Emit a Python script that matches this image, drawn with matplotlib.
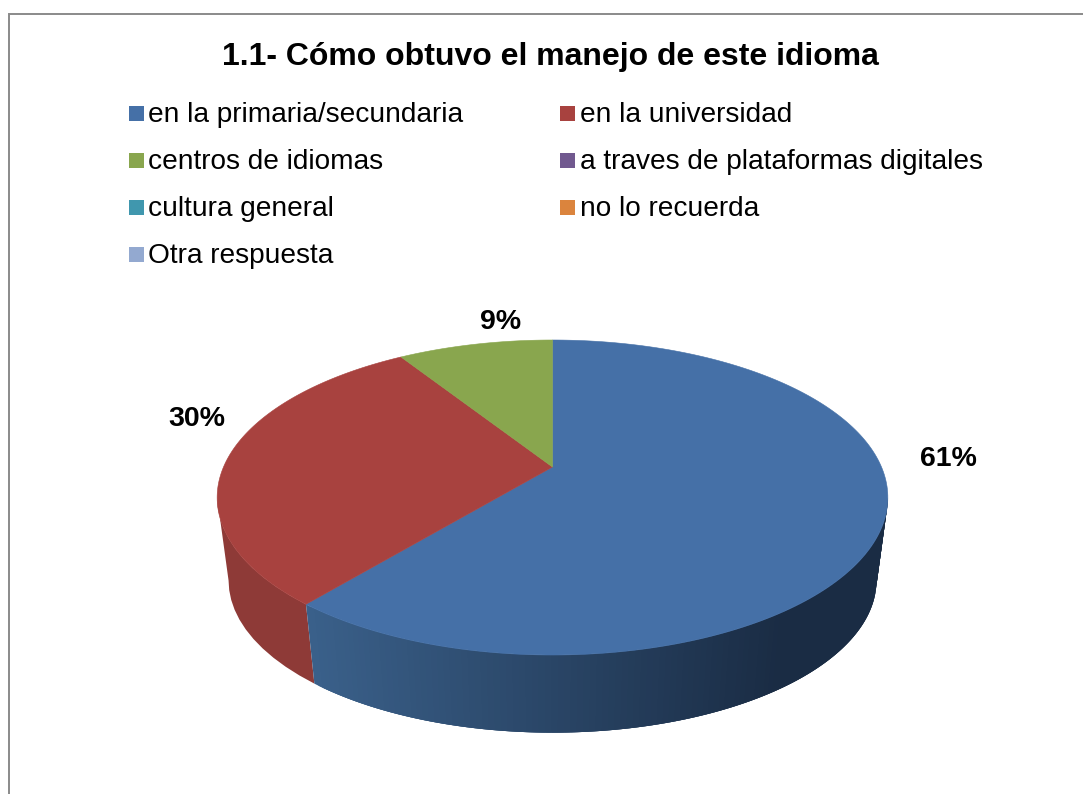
#!/usr/bin/env python
import numpy as np
import matplotlib
matplotlib.use("Agg")
import matplotlib.pyplot as plt
from matplotlib.patches import Polygon, Rectangle

plt.rcParams['font.family'] = ['Liberation Sans', 'DejaVu Sans']

title = "1.1- Cómo obtuvo el manejo de este idioma"
categories = ["en la primaria/secundaria", "en la universidad",
              "centros de idiomas", "a traves de plataformas digitales",
              "cultura general", "no lo recuerda", "Otra respuesta"]
values = [61, 30, 9, 0, 0, 0, 0]
colors = ["#4570a7", "#a8423f", "#89a64e", "#71598f",
          "#4097ae", "#db843d", "#93a9d0"]
label_pos = [(948, 466), (197, 426), (501, 329)]

k = 0.1937  # perspective of the tilted disc
side_scale = 0.966
side_dy = 84


def project(theta, scale=1.0, dy=0.0):
    # theta clockwise from 12 o'clock
    w = 1 + k*np.cos(theta)
    x = 552.5 + scale*329*np.sin(theta)/w
    y = 467 + dy - scale*151.6*np.cos(theta)/w
    return x, y


def blue_side(x):
    # side of the blue slice gets darker to the right
    t = np.clip((x - 307)/(780 - 307), 0, 1)
    c0 = np.array([0x3a, 0x60, 0x8a])
    c1 = np.array([0x1a, 0x2c, 0x44])
    return tuple((c0 + (c1 - c0)*t)/255)


def side_quad(a, b, col):
    x1, y1 = project(np.linspace(a, b, 12))
    x2, y2 = project(np.linspace(b, a, 12), side_scale, side_dy)
    pts = list(zip(x1, y1)) + list(zip(x2, y2))
    ax.add_patch(Polygon(pts, fc=col, ec="none"))


fig = plt.figure(figsize=(10.83, 7.94), dpi=100)
ax = fig.add_axes([0, 0, 1, 1])
ax.set_xlim(0, 1083)
ax.set_ylim(794, 0)
ax.axis("off")

# chart frame, only left and top are inside the picture
ax.plot([8.5, 8.5, 1083], [794, 14, 14], color="#8a8a8a", lw=1.4, solid_joinstyle="miter")

ax.text(550.5, 65, title, fontsize=23, fontweight="bold", ha="center", va="baseline")

# legend, two columns
for i, (cat, col) in enumerate(zip(categories, colors)):
    lx = 129 if i % 2 == 0 else 560
    row = i//2
    ax.add_patch(Rectangle((lx, 105.8 + 47*row), 14.8, 15, fc=col, ec="none"))
    ax.text(lx + 19.5, 122.3 + 47*row, cat, fontsize=20.15, ha="left", va="baseline")

fractions = np.array(values)/sum(values)
edges = np.concatenate([[0], np.cumsum(fractions)])*2*np.pi

# side wall: only the part between the two widest points shows
right_tip = np.arccos(-k)
left_tip = 2*np.pi - right_tip
side_quad(edges[1], left_tip, "#8e3a37")
th = np.linspace(edges[1], right_tip, 130)
for j in range(len(th) - 1):
    end = th[min(j + 3, len(th) - 1)]
    side_quad(th[j], end, blue_side(project(th[j])[0]))

# top face
for i, v in enumerate(values):
    if v == 0:
        continue
    th = np.linspace(edges[i], edges[i+1], 200)
    x, y = project(th)
    pts = [(552.5, 467)] + list(zip(x, y))
    ax.add_patch(Polygon(pts, fc=colors[i], ec=colors[i], lw=0.4))

for v, (px, py) in zip(values, label_pos):
    ax.text(px, py, "%d%%" % v, fontsize=20.5, fontweight="bold",
            ha="center", va="baseline")

fig.savefig("out.png", dpi=100)
